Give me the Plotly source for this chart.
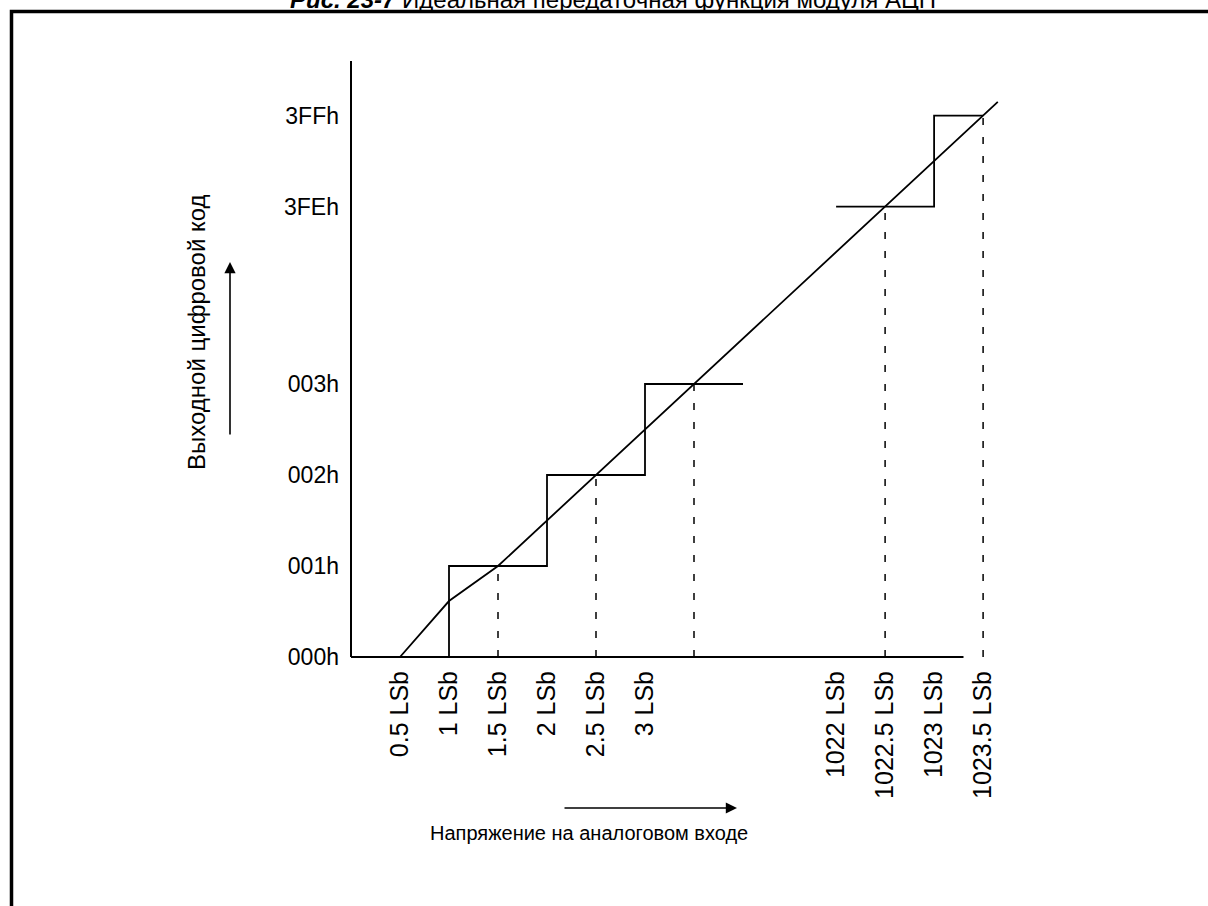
import plotly.graph_objects as go

# ---------------- data ----------------
x_tick_vals = [0.5, 1, 1.5, 2, 2.5, 3, 1022, 1022.5, 1023, 1023.5]
x_tick_text = ["0.5 LSb", "1 LSb", "1.5 LSb", "2 LSb", "2.5 LSb", "3 LSb",
               "1022 LSb", "1022.5 LSb", "1023 LSb", "1023.5 LSb"]
y_tick_vals = [0, 1, 2, 3, 1022, 1023]
y_tick_text = ["000h", "001h", "002h", "003h", "3FEh", "3FFh"]

# ideal transfer line (LSb -> code)
ideal_x = [0.5, 1.0, 1.5, 1023.65]
ideal_y = [0.0, 0.615, 1.0, 1023.15]

# staircase (lower and upper parts)
step_low_x = [1, 1, 2, 2, 3, 3, 4]
step_low_y = [0, 1, 1, 2, 2, 3, 3]
step_high_x = [1022, 1023, 1023, 1023.5]
step_high_y = [1022, 1022, 1023, 1023]

# mid-step dashed markers
mid_x = [1.5, 2.5, 3.5, 1022.5, 1023.5]
mid_y = [1, 2, 3, 1022, 1023]

axis_x_end = 1023.3
axis_y_end = 1023.6
BREAK = 1017.05  # axis break: values above 100 are shifted down


def t(v):
    if v is None:
        return None
    return v - BREAK if v >= 100 else v


W, H = 1208, 906
OX, OY = 351, 657        # pixel position of origin
SX, SY = 98, 91          # pixels per unit
FONT = "Liberation Sans, Arial, sans-serif"

fig = go.Figure()

line_style = dict(color="black", width=1.8)

fig.add_trace(go.Scatter(x=[t(v) for v in ideal_x], y=[t(v) for v in ideal_y],
                         mode="lines", line=line_style, hoverinfo="skip"))
fig.add_trace(go.Scatter(x=[t(v) for v in step_low_x], y=[t(v) for v in step_low_y],
                         mode="lines", line=line_style, hoverinfo="skip"))
fig.add_trace(go.Scatter(x=[t(v) for v in step_high_x], y=[t(v) for v in step_high_y],
                         mode="lines", line=line_style, hoverinfo="skip"))

dx, dy = [], []
for mx, my in zip(mid_x, mid_y):
    dx += [t(mx), t(mx), None]
    dy += [0, t(my), None]
fig.add_trace(go.Scatter(x=dx, y=dy, mode="lines",
                         line=dict(color="black", width=1.5, dash="7px,12px"),
                         hoverinfo="skip"))

# axis lines
fig.add_shape(type="line", x0=0, y0=0, x1=t(axis_x_end), y1=0,
              line=dict(color="black", width=2))
fig.add_shape(type="line", x0=0, y0=0, x1=0, y1=t(axis_y_end),
              line=dict(color="black", width=2))

# frame
fig.add_shape(type="rect", xref="paper", yref="paper",
              x0=11.5 / W, x1=1.05, y0=-0.05, y1=(H - 11.5) / H,
              line=dict(color="black", width=3.5))

# title (mostly cut off at page top, as in the source page)
fig.add_annotation(xref="paper", yref="paper", x=613 / W, y=(H + 1) / H,
                   xanchor="center", yanchor="middle", showarrow=False,
                   text="<b><i>Рис. 23-7</i></b> Идеальная передаточная функция модуля АЦП",
                   font=dict(family=FONT, size=24, color="black"))

# axis titles
fig.add_annotation(xref="paper", yref="paper", x=196 / W, y=(H - 332) / H,
                   xanchor="center", yanchor="middle", showarrow=False,
                   textangle=-90, text="Выходной цифровой код",
                   font=dict(family=FONT, size=24, color="black"))
fig.add_annotation(xref="paper", yref="paper", x=589 / W, y=(H - 833) / H,
                   xanchor="center", yanchor="middle", showarrow=False,
                   text="Напряжение на аналоговом входе",
                   font=dict(family=FONT, size=20, color="black"))

# arrows
fig.add_annotation(xref="paper", yref="paper", x=230 / W, y=(H - 262) / H,
                   text="", showarrow=True, ax=0, ay=174, arrowhead=2,
                   arrowsize=1.4, arrowwidth=1.6, arrowcolor="black", standoff=0)
fig.add_annotation(xref="paper", yref="paper", x=737 / W, y=(H - 808) / H,
                   text="", showarrow=True, ax=-174, ay=0, arrowhead=2,
                   arrowsize=1.4, arrowwidth=1.6, arrowcolor="black", standoff=0)

fig.update_layout(
    width=W, height=H,
    margin=dict(l=0, r=0, t=0, b=0),
    paper_bgcolor="white", plot_bgcolor="white",
    showlegend=False,
    font=dict(family=FONT, color="black"),
    xaxis=dict(range=[-OX / SX, (W - OX) / SX], showgrid=False, zeroline=False,
               showline=False, ticks="", tickmode="array",
               tickvals=[t(v) for v in x_tick_vals], ticktext=x_tick_text,
               tickangle=-90, tickfont=dict(family=FONT, size=25, color="black"),
               anchor="free", position=(H - OY) / H, ticklabelstandoff=8,
               fixedrange=True),
    yaxis=dict(range=[-(H - OY) / SY, OY / SY], showgrid=False, zeroline=False,
               showline=False, ticks="", tickmode="array",
               tickvals=[t(v) for v in y_tick_vals], ticktext=y_tick_text,
               tickfont=dict(family=FONT, size=23, color="black"),
               anchor="free", position=OX / W, ticklabelstandoff=12,
               fixedrange=True),
)

fig.write_html("out.html",
               config={"displayModeBar": False},
               post_script="document.body.style.margin='0';document.body.style.overflow='hidden';")
